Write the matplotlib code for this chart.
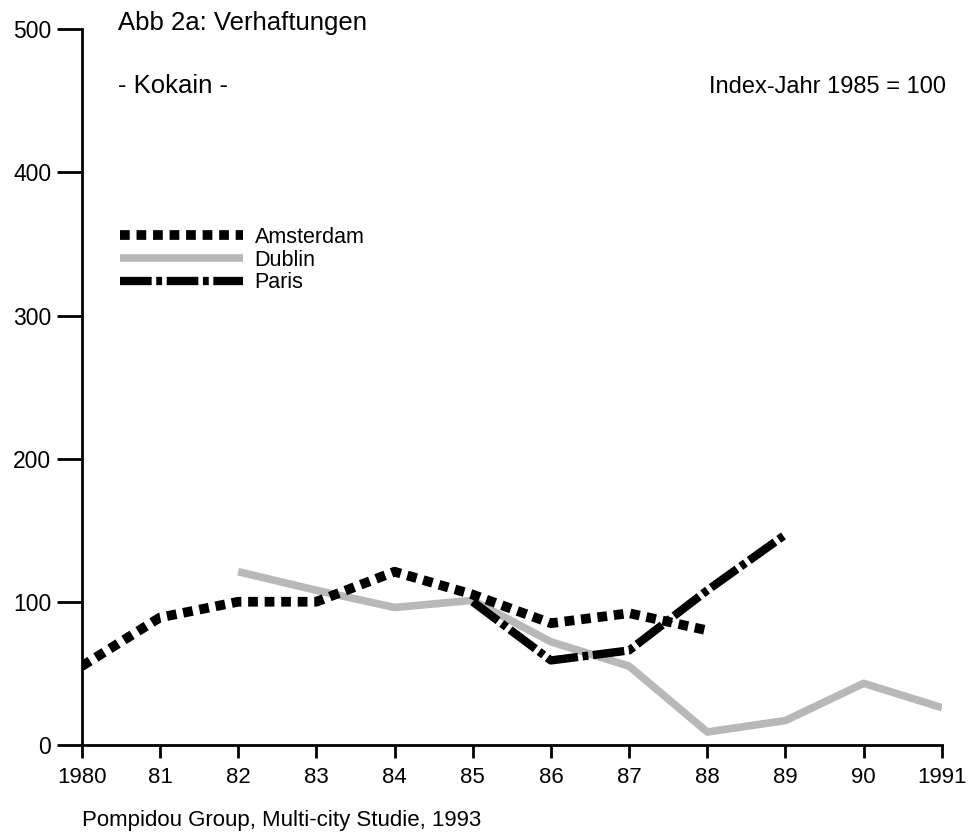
import matplotlib
matplotlib.use("Agg")
import matplotlib.pyplot as plt
from matplotlib.lines import Line2D

plt.rcParams['font.family'] = ['Liberation Sans', 'DejaVu Sans']

# Daten (Index-Jahr 1985 = 100)
years_ams = [1980, 1981, 1982, 1983, 1984, 1985, 1986, 1987, 1988]
amsterdam = [55, 89, 100, 100, 121, 105, 85, 92, 80]

years_dub = [1982, 1983, 1984, 1985, 1986, 1987, 1988, 1989, 1990, 1991]
dublin = [121, 108, 96, 101, 72, 55, 9, 17, 43, 26]

years_par = [1985, 1986, 1987, 1988, 1989]
paris = [100, 59, 66, 108, 147]

xtick_years = list(range(1980, 1992))
xtick_labels = ['1980', '81', '82', '83', '84', '85', '86', '87', '88', '89', '90', '1991']
yticks = [0, 100, 200, 300, 400, 500]

# Linienstile
ams_style = dict(color='black', linewidth=7, dashes=(1.0, 0.7), dash_capstyle='butt')
dub_style = dict(color='#b8b8b8', linewidth=5.5, solid_capstyle='butt')
par_style = dict(color='black', linewidth=6, dashes=(3.8, 0.55, 0.7, 0.55), dash_capstyle='butt')

fig = plt.figure(figsize=(9.74, 8.36), dpi=100)
ax = fig.add_axes([0.084, 0.109, 0.883, 0.856])

ax.plot(years_dub, dublin, solid_joinstyle='round', zorder=2, **dub_style)
ax.plot(years_par, paris, zorder=3, **par_style)
ax.plot(years_ams, amsterdam, zorder=4, **ams_style)

ax.set_xlim(1980, 1991)
ax.set_ylim(0, 500)
ax.set_xticks(xtick_years)
ax.set_xticklabels(xtick_labels)
ax.set_yticks(yticks)
ax.set_yticklabels([str(v) for v in yticks])

for s in ['top', 'right']:
    ax.spines[s].set_visible(False)
ax.spines['left'].set_linewidth(2)
ax.spines['bottom'].set_linewidth(2)
ax.tick_params(axis='y', length=18, width=2, pad=4, labelsize=16.5)
ax.tick_params(axis='x', length=9, width=2, pad=7, labelsize=16)

# Legende
handles = [Line2D([0], [0], **ams_style),
           Line2D([0], [0], **dub_style),
           Line2D([0], [0], **par_style)]
ax.legend(handles, ['Amsterdam', 'Dublin', 'Paris'], loc='upper left',
          bbox_to_anchor=(0.027, 0.745), frameon=False, fontsize=15.5,
          handlelength=5.7, handletextpad=0.55, labelspacing=0.08, borderpad=0.2)

# Texte
fig.text(118 / 974, 1 - 30 / 836, 'Abb 2a: Verhaftungen', fontsize=18.5, va='baseline', ha='left')
fig.text(118 / 974, 1 - 93 / 836, '- Kokain -', fontsize=18.5, va='baseline', ha='left')
fig.text(946 / 974, 1 - 93 / 836, 'Index-Jahr 1985 = 100', fontsize=17, va='baseline', ha='right')
fig.text(82 / 974, 1 - 826 / 836, 'Pompidou Group, Multi-city Studie, 1993', fontsize=16,
         va='baseline', ha='left')

fig.savefig('out.png', dpi=100)
